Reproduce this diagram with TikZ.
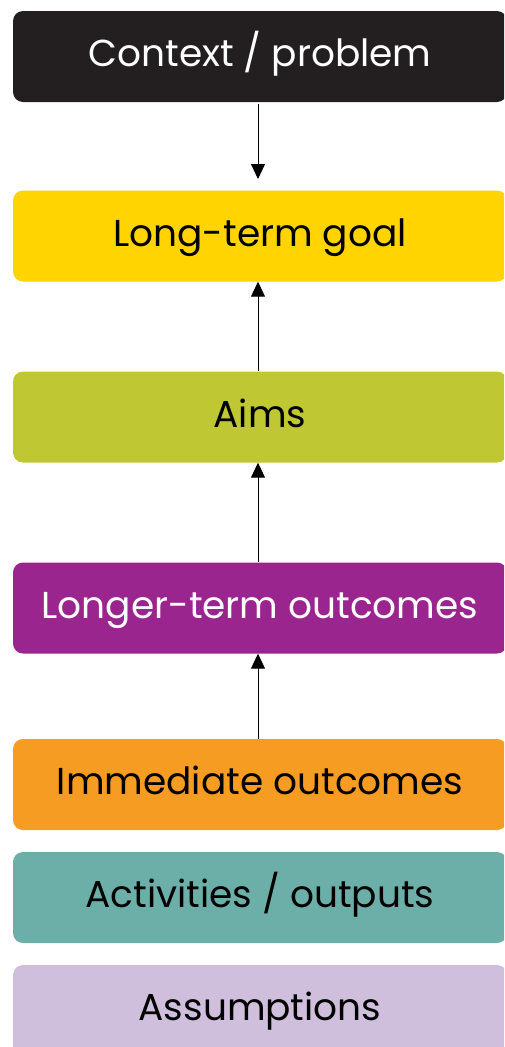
\documentclass[tikz,border=0pt]{standalone}
\usepackage{fontspec}
\setmainfont{Poppins}
\usetikzlibrary{arrows.meta}
\definecolor{cblack}{HTML}{231F20}
\definecolor{cyellow}{HTML}{FFD400}
\definecolor{cgreen}{HTML}{BFC733}
\definecolor{cpurple}{HTML}{9B258F}
\definecolor{corange}{HTML}{F69C23}
\definecolor{cteal}{HTML}{6BAFA8}
\definecolor{clav}{HTML}{D0BFDC}
\tikzset{
  box/.style={rounded corners=10pt, minimum width=494pt, minimum height=91pt, inner sep=0pt,
    text height=27pt, text depth=7pt,
    font=\fontsize{37.5}{44}\selectfont, text=black},
  conn/.style={line width=1pt, -{Triangle[width=14pt,length=15pt]}},
}
\begin{document}
\begin{tikzpicture}[x=1pt,y=-1pt]
\useasboundingbox (0,0) rectangle (504,1047);
\begin{scope}
\clip (0,0) rectangle (504,1047);
\node[box, fill=cblack, text=white] (ctx) at (260,56.5) {Context / problem};
\node[box, fill=cyellow] (goal) at (260,236) {Long-term goal};
\node[box, fill=cgreen] (aims) at (260,417) {Aims};
\node[box, fill=cpurple, text=white] (longer) at (260,608) {Longer-term outcomes};
\node[box, fill=corange] (imm) at (260,784.5) {Immediate outcomes};
\node[box, fill=cteal] (act) at (260,897.5) {Activities / outputs};
\node[box, fill=clav] (ass) at (260,1010.5) {Assumptions};
\end{scope}
\draw[conn] (ctx.south -| 258,0) ++(0,2) -- (258,179);
\draw[conn] (aims.north -| 258,0) -- (goal.south -| 258,0);
\draw[conn] (longer.north -| 258,0) -- (aims.south -| 258,0);
\draw[conn] (imm.north -| 258,0) -- (longer.south -| 258,0);
\end{tikzpicture}
\end{document}
